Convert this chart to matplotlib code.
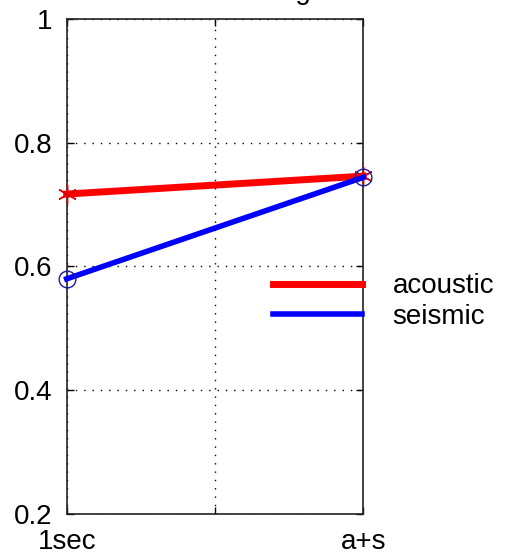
import matplotlib
matplotlib.use('Agg')
import matplotlib.pyplot as plt

# recognition rates for single sensor vs. fused
conditions = ['1sec', 'a+s']
x_pos = [1, 2]
acoustic = [0.717, 0.746]
seismic = [0.580, 0.744]

plt.rcParams['font.family'] = ['Liberation Sans', 'DejaVu Sans']

fig = plt.figure(figsize=(5.13, 5.55), dpi=100)
ax = fig.add_axes([0.130, 0.0739, 0.578, 0.892])

ax.plot(x_pos, acoustic, color='#ff0000', lw=5, marker=(6, 2, 0), ms=14,
        mec='#e00000', mew=1, label='acoustic', clip_on=False, zorder=3)
ax.plot(x_pos, seismic, color='#0000ff', lw=4, marker='o', ms=12,
        mfc='none', mec='#1a1aa0', mew=1, label='seismic', clip_on=False,
        zorder=4)

ax.set_xlim(1, 2)
ax.set_ylim(0.2, 1.0)
ax.set_xticks([1, 1.5, 2])
ax.set_xticklabels([conditions[0], '', conditions[1]])
ax.set_yticks([0.2, 0.4, 0.6, 0.8, 1.0])
ax.set_yticklabels(['0.2', '0.4', '0.6', '0.8', '1'])
ax.tick_params(direction='in', length=5, width=1, top=True, right=True,
               labelsize=20, colors='black')
ax.tick_params(axis='x', pad=10.5)
ax.tick_params(axis='y', pad=10)
ax.grid(True, color='black', linestyle=(0, (1, 5)), linewidth=1)
for s in ax.spines.values():
    s.set_linewidth(1.2)
    s.set_color('#222222')

# legend sits off to the right of the axes, no frame
leg = ax.legend(loc='center left', bbox_to_anchor=(273 / 513, 1 - 301.5 / 555),
                bbox_transform=fig.transFigure, frameon=False, fontsize=20,
                handlelength=3.2, handletextpad=1.1, borderpad=0,
                borderaxespad=0, labelspacing=0.15)
for h in leg.legend_handles:
    h.set_marker('')

# title sits mostly above the top edge
fig.text(215 / 513, 1 + 1 / 555, 'Classifier Average', ha='center',
         va='baseline', fontsize=20)

fig.savefig('out.png', dpi=100)
